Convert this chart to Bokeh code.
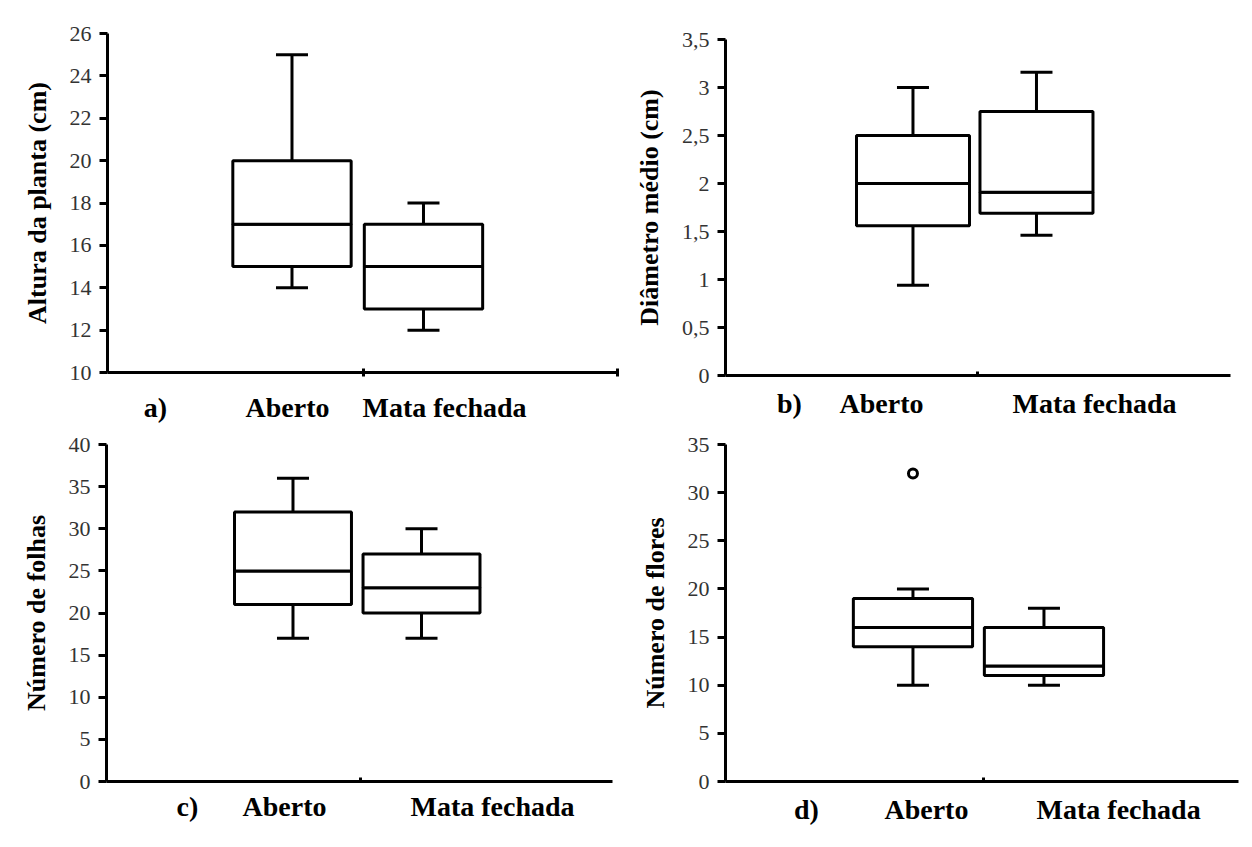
from bokeh.plotting import figure
from bokeh.layouts import row, column
from bokeh.models import (Range1d, FixedTicker, Whisker, TeeHead, ColumnDataSource,
                          CustomJSTickFormatter)
from bokeh.embed import file_html
from bokeh.resources import INLINE

# ---------------- data ----------------
categories = ["Aberto", "Mata fechada"]
panel_tags = ["a)", "b)", "c)", "d)"]

altura_min = [14, 12]
altura_q1 = [15, 13]
altura_med = [17, 15]
altura_q3 = [20, 17]
altura_max = [25, 18]

diam_min = [0.94, 1.46]
diam_q1 = [1.56, 1.69]
diam_med = [2.0, 1.91]
diam_q3 = [2.5, 2.75]
diam_max = [3.0, 3.16]

folhas_min = [17, 17]
folhas_q1 = [21, 20]
folhas_med = [25, 23]
folhas_q3 = [32, 27]
folhas_max = [36, 30]

flores_min = [10, 10]
flores_q1 = [14, 11]
flores_med = [16, 12]
flores_q3 = [19, 16]
flores_max = [20, 18]
flores_outlier_cat = ["Aberto"]
flores_outlier = [32]

y_titles = ["Altura da planta (cm)", "Diâmetro médio (cm)",
            "Número de folhas", "Número de flores"]
y_ticks_a = [10, 12, 14, 16, 18, 20, 22, 24, 26]
y_ticks_b = [0, 0.5, 1, 1.5, 2, 2.5, 3, 3.5]
y_ticks_c = [0, 5, 10, 15, 20, 25, 30, 35, 40]
y_ticks_d = [0, 5, 10, 15, 20, 25, 30, 35]

# ---------------- layout / style ----------------
FONT = "Liberation Serif"
layouts = [
    dict(w=622, h=425, b=(107, 4, 33, 53), xr=(-0.403, 3.483), bw=0.9, mid=1.544,
         lab=[-0.038, 0.966, 2.16], end=True, ls=15),
    dict(w=628, h=425, b=(103, 20, 39, 50), xr=(-0.518, 3.571), bw=0.915, mid=1.522,
         lab=[0.0, 0.745, 2.47], end=False, ls=12),
    dict(w=622, h=420, b=(106, 10, 19, 64), xr=(-0.451, 3.486), bw=0.91, mid=1.525,
         lab=[0.179, 0.934, 2.553], end=False, ls=9),
    dict(w=628, h=420, b=(103, 12, 19, 64), xr=(-0.431, 3.485), bw=0.91, mid=1.538,
         lab=[0.187, 1.103, 2.57], end=False, ls=12),
]

series = [
    (altura_min, altura_q1, altura_med, altura_q3, altura_max, y_ticks_a),
    (diam_min, diam_q1, diam_med, diam_q3, diam_max, y_ticks_b),
    (folhas_min, folhas_q1, folhas_med, folhas_q3, folhas_max, y_ticks_c),
    (flores_min, flores_q1, flores_med, flores_q3, flores_max, y_ticks_d),
]

xs = [i + 1 for i in range(len(categories))]


def make_panel(k):
    lo = layouts[k]
    mn, q1, med, q3, mx, yt = series[k]
    bl, br, bt, bb = lo["b"]
    p = figure(width=lo["w"], height=lo["h"],
               x_range=Range1d(*lo["xr"]), y_range=Range1d(yt[0], yt[-1]),
               output_backend="svg", toolbar_location=None,
               min_border_left=bl, min_border_right=br,
               min_border_top=bt, min_border_bottom=bb)
    p.frame_align = False
    p.xgrid.visible = False
    p.ygrid.visible = False
    p.outline_line_color = None
    p.background_fill_color = "white"
    p.border_fill_color = "white"

    src = ColumnDataSource(dict(x=xs, mn=mn, q1=q1, med=med, q3=q3, mx=mx))
    wh = Whisker(base="x", lower="mn", upper="mx", source=src, level="underlay",
                 line_color="black", line_width=3,
                 upper_head=TeeHead(size=32, line_width=3, line_color="black"),
                 lower_head=TeeHead(size=32, line_width=3, line_color="black"))
    p.add_layout(wh)
    p.vbar(x="x", width=lo["bw"], bottom="q1", top="med", source=src,
           fill_color="white", line_color="black", line_width=3)
    p.vbar(x="x", width=lo["bw"], bottom="med", top="q3", source=src,
           fill_color="white", line_color="black", line_width=3)

    if k == 3:
        ox = [xs[categories.index(c)] for c in flores_outlier_cat]
        p.scatter(x=ox, y=flores_outlier, marker="circle", size=9,
                  fill_color="white", line_color="black", line_width=3)

    # y axis
    ya = p.yaxis[0]
    ya.ticker = FixedTicker(ticks=yt)
    ya.formatter = CustomJSTickFormatter(code="return tick.toString().replace('.', ',');")
    ya.axis_label = y_titles[k]
    ya.axis_label_text_font = FONT
    ya.axis_label_text_font_style = "bold"
    ya.axis_label_text_font_size = "26px"
    ya.axis_label_text_color = "black"
    ya.axis_label_standoff = 15
    ya.major_label_text_font = FONT
    ya.major_label_text_font_size = "22px"
    ya.major_label_text_color = "#333333"
    ya.major_label_standoff = 8
    ya.axis_line_width = 3
    ya.axis_line_color = "black"
    ya.major_tick_line_width = 3
    ya.major_tick_line_color = "black"
    ya.major_tick_out = 8
    ya.major_tick_in = 0
    ya.minor_tick_line_color = None

    # x axis: labels as tick labels, small marks as minor ticks
    xa = p.xaxis[0]
    texts = [panel_tags[k]] + categories
    minor = [lo["mid"]]
    if lo["end"]:
        minor.append(lo["xr"][1] - 0.005)
    xa.ticker = FixedTicker(ticks=lo["lab"], minor_ticks=minor)
    xa.major_label_overrides = {pos: t for pos, t in zip(lo["lab"], texts)}
    xa.major_label_text_font = FONT
    xa.major_label_text_font_style = "bold"
    xa.major_label_text_font_size = "28px"
    xa.major_label_text_color = "black"
    xa.major_label_standoff = lo["ls"]
    xa.major_tick_in = 0
    xa.major_tick_out = 0
    xa.minor_tick_in = 4
    xa.minor_tick_out = 4 if lo["end"] else 0
    xa.minor_tick_line_width = 3
    xa.minor_tick_line_color = "black"
    xa.axis_line_width = 3
    xa.axis_line_color = "black"
    return p


panels = [make_panel(k) for k in range(4)]
layout = column(row(panels[0], panels[1]), row(panels[2], panels[3]))

open("out.html", "w").write(file_html(layout, INLINE))
